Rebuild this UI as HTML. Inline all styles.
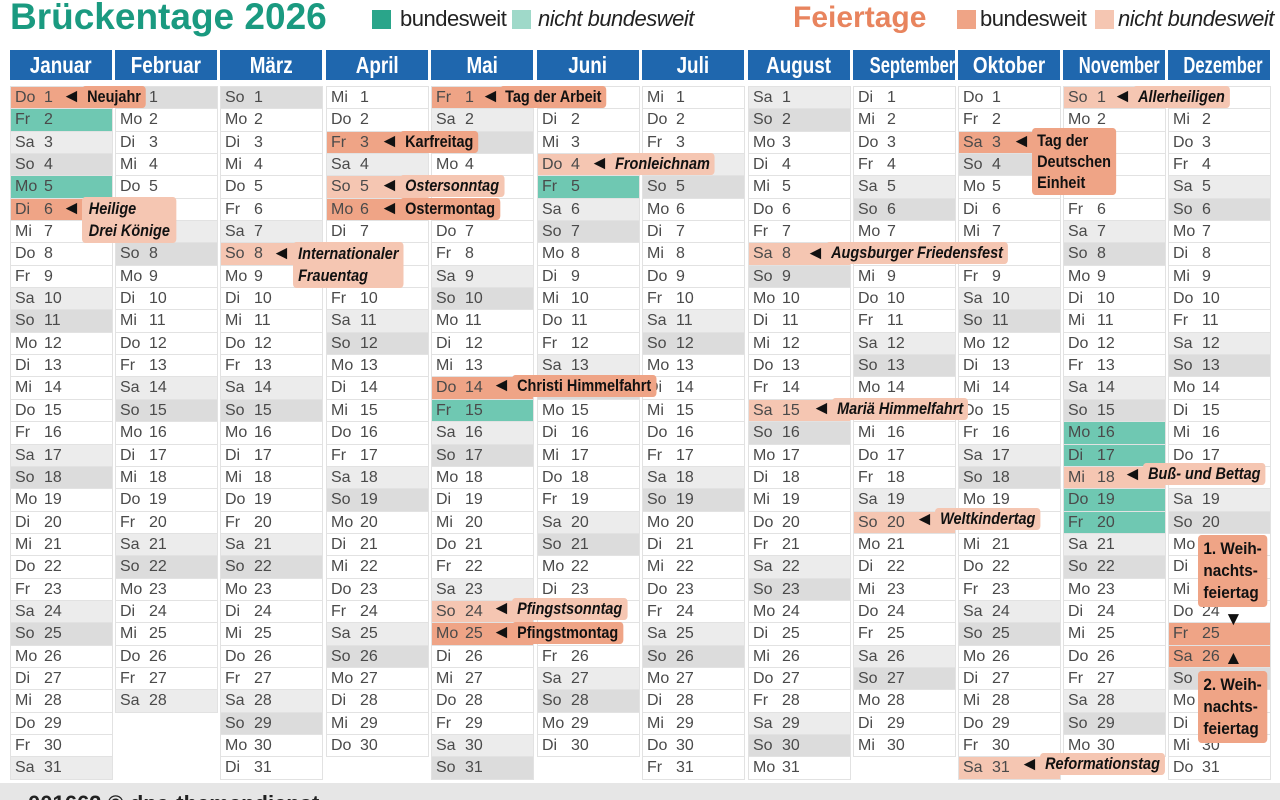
<!DOCTYPE html><html><head><meta charset="utf-8"><style>
*{margin:0;padding:0;box-sizing:border-box}
body{width:1280px;height:800px;background:#fff;position:relative;overflow:hidden;font-family:"Liberation Sans Narrow","Liberation Sans",sans-serif;color:#444}
.t{position:absolute;font-family:"Liberation Sans",sans-serif;font-weight:bold}
.sq{position:absolute;width:19px;height:19px}
.lg{position:absolute;font-size:22px;color:#222;top:6px;letter-spacing:-0.5px}
.hd{position:absolute;top:50px;height:30px;width:102px;background:#1f67ae;color:#fff;font-size:23px;font-weight:bold;text-align:center;line-height:30px;white-space:nowrap;overflow:hidden}
.hd span{display:inline-block;transform:scaleX(.82)}
.hd span.n{transform:scaleX(.72)}
.m{position:absolute;top:86px;width:103px;border-top:1px solid #e2e2e2}
.m p{height:22.35px;line-height:22px;font-size:16px;border:1px solid #e2e2e2;border-top:none;padding-left:4px;white-space:nowrap;overflow:hidden;color:#4a4a4a}
.m p i{font-style:normal;display:inline-block;width:29px}
.m p.s{background:#ececec}.m p.u{background:#dcdcdc}
.m p.h{background:#efa486}.m p.l{background:#f5c6b2}.m p.b{background:#6fc8b2}
.k{position:absolute;font-weight:bold;font-size:17px;color:#111;border-radius:4px;padding:0 6px;line-height:22px;white-space:nowrap;transform:scaleX(.85);transform-origin:left top}
.k.h{background:#efa486}.k.l{background:#f5c6b2;font-style:italic}
.a{position:absolute;font-size:19px;color:#111;line-height:18px}
.ft{position:absolute;left:0;top:783px;width:1280px;height:17px;background:#e6e6e6;overflow:hidden}
</style></head><body>
<div class="t" style="left:10px;top:-4px;font-size:37px;color:#1a9a80">Brückentage 2026</div>
<div class="sq" style="left:372px;top:10px;background:#2aa58a"></div><div class="lg" style="left:400px">bundesweit</div>
<div class="sq" style="left:512px;top:10px;background:#9fd9c9"></div><div class="lg" style="left:538px;font-style:italic">nicht bundesweit</div>
<div class="t" style="left:793px;top:1px;font-size:30px;color:#e8845e">Feiertage</div>
<div class="sq" style="left:957px;top:10px;background:#efa486"></div><div class="lg" style="left:980px">bundesweit</div>
<div class="sq" style="left:1095px;top:10px;background:#f5c6b2"></div><div class="lg" style="left:1118px;font-style:italic">nicht bundesweit</div>

<div class="hd" style="left:10px"><span>Januar</span></div><div class="hd" style="left:115px"><span>Februar</span></div><div class="hd" style="left:220px"><span>März</span></div><div class="hd" style="left:326px"><span>April</span></div><div class="hd" style="left:431px"><span>Mai</span></div><div class="hd" style="left:537px"><span>Juni</span></div><div class="hd" style="left:642px"><span>Juli</span></div><div class="hd" style="left:748px"><span>August</span></div><div class="hd" style="left:853px"><span class="n">September</span></div><div class="hd" style="left:958px"><span>Oktober</span></div><div class="hd" style="left:1063px"><span class="n">November</span></div><div class="hd" style="left:1168px"><span class="n">Dezember</span></div>

<div class="m" style="left:10px"><p class=h><i>Do</i>1</p><p class=b><i>Fr</i>2</p><p class=s><i>Sa</i>3</p><p class=u><i>So</i>4</p><p class=b><i>Mo</i>5</p><p class=h><i>Di</i>6</p><p><i>Mi</i>7</p><p><i>Do</i>8</p><p><i>Fr</i>9</p><p class=s><i>Sa</i>10</p><p class=u><i>So</i>11</p><p><i>Mo</i>12</p><p><i>Di</i>13</p><p><i>Mi</i>14</p><p><i>Do</i>15</p><p><i>Fr</i>16</p><p class=s><i>Sa</i>17</p><p class=u><i>So</i>18</p><p><i>Mo</i>19</p><p><i>Di</i>20</p><p><i>Mi</i>21</p><p><i>Do</i>22</p><p><i>Fr</i>23</p><p class=s><i>Sa</i>24</p><p class=u><i>So</i>25</p><p><i>Mo</i>26</p><p><i>Di</i>27</p><p><i>Mi</i>28</p><p><i>Do</i>29</p><p><i>Fr</i>30</p><p class=s><i>Sa</i>31</p></div>

<div class="m" style="left:115px"><p class=u><i>So</i>1</p><p><i>Mo</i>2</p><p><i>Di</i>3</p><p><i>Mi</i>4</p><p><i>Do</i>5</p><p><i>Fr</i>6</p><p class=s><i>Sa</i>7</p><p class=u><i>So</i>8</p><p><i>Mo</i>9</p><p><i>Di</i>10</p><p><i>Mi</i>11</p><p><i>Do</i>12</p><p><i>Fr</i>13</p><p class=s><i>Sa</i>14</p><p class=u><i>So</i>15</p><p><i>Mo</i>16</p><p><i>Di</i>17</p><p><i>Mi</i>18</p><p><i>Do</i>19</p><p><i>Fr</i>20</p><p class=s><i>Sa</i>21</p><p class=u><i>So</i>22</p><p><i>Mo</i>23</p><p><i>Di</i>24</p><p><i>Mi</i>25</p><p><i>Do</i>26</p><p><i>Fr</i>27</p><p class=s><i>Sa</i>28</p></div>

<div class="m" style="left:220px"><p class=u><i>So</i>1</p><p><i>Mo</i>2</p><p><i>Di</i>3</p><p><i>Mi</i>4</p><p><i>Do</i>5</p><p><i>Fr</i>6</p><p class=s><i>Sa</i>7</p><p class=l><i>So</i>8</p><p><i>Mo</i>9</p><p><i>Di</i>10</p><p><i>Mi</i>11</p><p><i>Do</i>12</p><p><i>Fr</i>13</p><p class=s><i>Sa</i>14</p><p class=u><i>So</i>15</p><p><i>Mo</i>16</p><p><i>Di</i>17</p><p><i>Mi</i>18</p><p><i>Do</i>19</p><p><i>Fr</i>20</p><p class=s><i>Sa</i>21</p><p class=u><i>So</i>22</p><p><i>Mo</i>23</p><p><i>Di</i>24</p><p><i>Mi</i>25</p><p><i>Do</i>26</p><p><i>Fr</i>27</p><p class=s><i>Sa</i>28</p><p class=u><i>So</i>29</p><p><i>Mo</i>30</p><p><i>Di</i>31</p></div>

<div class="m" style="left:326px"><p><i>Mi</i>1</p><p><i>Do</i>2</p><p class=h><i>Fr</i>3</p><p class=s><i>Sa</i>4</p><p class=l><i>So</i>5</p><p class=h><i>Mo</i>6</p><p><i>Di</i>7</p><p><i>Mi</i>8</p><p><i>Do</i>9</p><p><i>Fr</i>10</p><p class=s><i>Sa</i>11</p><p class=u><i>So</i>12</p><p><i>Mo</i>13</p><p><i>Di</i>14</p><p><i>Mi</i>15</p><p><i>Do</i>16</p><p><i>Fr</i>17</p><p class=s><i>Sa</i>18</p><p class=u><i>So</i>19</p><p><i>Mo</i>20</p><p><i>Di</i>21</p><p><i>Mi</i>22</p><p><i>Do</i>23</p><p><i>Fr</i>24</p><p class=s><i>Sa</i>25</p><p class=u><i>So</i>26</p><p><i>Mo</i>27</p><p><i>Di</i>28</p><p><i>Mi</i>29</p><p><i>Do</i>30</p></div>

<div class="m" style="left:431px"><p class=h><i>Fr</i>1</p><p class=s><i>Sa</i>2</p><p class=u><i>So</i>3</p><p><i>Mo</i>4</p><p><i>Di</i>5</p><p><i>Mi</i>6</p><p><i>Do</i>7</p><p><i>Fr</i>8</p><p class=s><i>Sa</i>9</p><p class=u><i>So</i>10</p><p><i>Mo</i>11</p><p><i>Di</i>12</p><p><i>Mi</i>13</p><p class=h><i>Do</i>14</p><p class=b><i>Fr</i>15</p><p class=s><i>Sa</i>16</p><p class=u><i>So</i>17</p><p><i>Mo</i>18</p><p><i>Di</i>19</p><p><i>Mi</i>20</p><p><i>Do</i>21</p><p><i>Fr</i>22</p><p class=s><i>Sa</i>23</p><p class=l><i>So</i>24</p><p class=h><i>Mo</i>25</p><p><i>Di</i>26</p><p><i>Mi</i>27</p><p><i>Do</i>28</p><p><i>Fr</i>29</p><p class=s><i>Sa</i>30</p><p class=u><i>So</i>31</p></div>

<div class="m" style="left:537px"><p><i>Mo</i>1</p><p><i>Di</i>2</p><p><i>Mi</i>3</p><p class=l><i>Do</i>4</p><p class=b><i>Fr</i>5</p><p class=s><i>Sa</i>6</p><p class=u><i>So</i>7</p><p><i>Mo</i>8</p><p><i>Di</i>9</p><p><i>Mi</i>10</p><p><i>Do</i>11</p><p><i>Fr</i>12</p><p class=s><i>Sa</i>13</p><p class=u><i>So</i>14</p><p><i>Mo</i>15</p><p><i>Di</i>16</p><p><i>Mi</i>17</p><p><i>Do</i>18</p><p><i>Fr</i>19</p><p class=s><i>Sa</i>20</p><p class=u><i>So</i>21</p><p><i>Mo</i>22</p><p><i>Di</i>23</p><p><i>Mi</i>24</p><p><i>Do</i>25</p><p><i>Fr</i>26</p><p class=s><i>Sa</i>27</p><p class=u><i>So</i>28</p><p><i>Mo</i>29</p><p><i>Di</i>30</p></div>

<div class="m" style="left:642px"><p><i>Mi</i>1</p><p><i>Do</i>2</p><p><i>Fr</i>3</p><p class=s><i>Sa</i>4</p><p class=u><i>So</i>5</p><p><i>Mo</i>6</p><p><i>Di</i>7</p><p><i>Mi</i>8</p><p><i>Do</i>9</p><p><i>Fr</i>10</p><p class=s><i>Sa</i>11</p><p class=u><i>So</i>12</p><p><i>Mo</i>13</p><p><i>Di</i>14</p><p><i>Mi</i>15</p><p><i>Do</i>16</p><p><i>Fr</i>17</p><p class=s><i>Sa</i>18</p><p class=u><i>So</i>19</p><p><i>Mo</i>20</p><p><i>Di</i>21</p><p><i>Mi</i>22</p><p><i>Do</i>23</p><p><i>Fr</i>24</p><p class=s><i>Sa</i>25</p><p class=u><i>So</i>26</p><p><i>Mo</i>27</p><p><i>Di</i>28</p><p><i>Mi</i>29</p><p><i>Do</i>30</p><p><i>Fr</i>31</p></div>

<div class="m" style="left:748px"><p class=s><i>Sa</i>1</p><p class=u><i>So</i>2</p><p><i>Mo</i>3</p><p><i>Di</i>4</p><p><i>Mi</i>5</p><p><i>Do</i>6</p><p><i>Fr</i>7</p><p class=l><i>Sa</i>8</p><p class=u><i>So</i>9</p><p><i>Mo</i>10</p><p><i>Di</i>11</p><p><i>Mi</i>12</p><p><i>Do</i>13</p><p><i>Fr</i>14</p><p class=l><i>Sa</i>15</p><p class=u><i>So</i>16</p><p><i>Mo</i>17</p><p><i>Di</i>18</p><p><i>Mi</i>19</p><p><i>Do</i>20</p><p><i>Fr</i>21</p><p class=s><i>Sa</i>22</p><p class=u><i>So</i>23</p><p><i>Mo</i>24</p><p><i>Di</i>25</p><p><i>Mi</i>26</p><p><i>Do</i>27</p><p><i>Fr</i>28</p><p class=s><i>Sa</i>29</p><p class=u><i>So</i>30</p><p><i>Mo</i>31</p></div>

<div class="m" style="left:853px"><p><i>Di</i>1</p><p><i>Mi</i>2</p><p><i>Do</i>3</p><p><i>Fr</i>4</p><p class=s><i>Sa</i>5</p><p class=u><i>So</i>6</p><p><i>Mo</i>7</p><p><i>Di</i>8</p><p><i>Mi</i>9</p><p><i>Do</i>10</p><p><i>Fr</i>11</p><p class=s><i>Sa</i>12</p><p class=u><i>So</i>13</p><p><i>Mo</i>14</p><p><i>Di</i>15</p><p><i>Mi</i>16</p><p><i>Do</i>17</p><p><i>Fr</i>18</p><p class=s><i>Sa</i>19</p><p class=l><i>So</i>20</p><p><i>Mo</i>21</p><p><i>Di</i>22</p><p><i>Mi</i>23</p><p><i>Do</i>24</p><p><i>Fr</i>25</p><p class=s><i>Sa</i>26</p><p class=u><i>So</i>27</p><p><i>Mo</i>28</p><p><i>Di</i>29</p><p><i>Mi</i>30</p></div>

<div class="m" style="left:958px"><p><i>Do</i>1</p><p><i>Fr</i>2</p><p class=h><i>Sa</i>3</p><p class=u><i>So</i>4</p><p><i>Mo</i>5</p><p><i>Di</i>6</p><p><i>Mi</i>7</p><p><i>Do</i>8</p><p><i>Fr</i>9</p><p class=s><i>Sa</i>10</p><p class=u><i>So</i>11</p><p><i>Mo</i>12</p><p><i>Di</i>13</p><p><i>Mi</i>14</p><p><i>Do</i>15</p><p><i>Fr</i>16</p><p class=s><i>Sa</i>17</p><p class=u><i>So</i>18</p><p><i>Mo</i>19</p><p><i>Di</i>20</p><p><i>Mi</i>21</p><p><i>Do</i>22</p><p><i>Fr</i>23</p><p class=s><i>Sa</i>24</p><p class=u><i>So</i>25</p><p><i>Mo</i>26</p><p><i>Di</i>27</p><p><i>Mi</i>28</p><p><i>Do</i>29</p><p><i>Fr</i>30</p><p class=l><i>Sa</i>31</p></div>

<div class="m" style="left:1063px"><p class=l><i>So</i>1</p><p><i>Mo</i>2</p><p><i>Di</i>3</p><p><i>Mi</i>4</p><p><i>Do</i>5</p><p><i>Fr</i>6</p><p class=s><i>Sa</i>7</p><p class=u><i>So</i>8</p><p><i>Mo</i>9</p><p><i>Di</i>10</p><p><i>Mi</i>11</p><p><i>Do</i>12</p><p><i>Fr</i>13</p><p class=s><i>Sa</i>14</p><p class=u><i>So</i>15</p><p class=b><i>Mo</i>16</p><p class=b><i>Di</i>17</p><p class=l><i>Mi</i>18</p><p class=b><i>Do</i>19</p><p class=b><i>Fr</i>20</p><p class=s><i>Sa</i>21</p><p class=u><i>So</i>22</p><p><i>Mo</i>23</p><p><i>Di</i>24</p><p><i>Mi</i>25</p><p><i>Do</i>26</p><p><i>Fr</i>27</p><p class=s><i>Sa</i>28</p><p class=u><i>So</i>29</p><p><i>Mo</i>30</p></div>

<div class="m" style="left:1168px"><p><i>Di</i>1</p><p><i>Mi</i>2</p><p><i>Do</i>3</p><p><i>Fr</i>4</p><p class=s><i>Sa</i>5</p><p class=u><i>So</i>6</p><p><i>Mo</i>7</p><p><i>Di</i>8</p><p><i>Mi</i>9</p><p><i>Do</i>10</p><p><i>Fr</i>11</p><p class=s><i>Sa</i>12</p><p class=u><i>So</i>13</p><p><i>Mo</i>14</p><p><i>Di</i>15</p><p><i>Mi</i>16</p><p><i>Do</i>17</p><p><i>Fr</i>18</p><p class=s><i>Sa</i>19</p><p class=u><i>So</i>20</p><p><i>Mo</i>21</p><p><i>Di</i>22</p><p><i>Mi</i>23</p><p><i>Do</i>24</p><p class=h><i>Fr</i>25</p><p class=h><i>Sa</i>26</p><p class=u><i>So</i>27</p><p><i>Mo</i>28</p><p><i>Di</i>29</p><p><i>Mi</i>30</p><p><i>Do</i>31</p></div>

<div class="a" style="left:62px;top:88px">◄</div><div class="k h" style="left:82px;top:86px">Neujahr</div>
<div class="a" style="left:62px;top:200px">◄</div><div class="k l" style="left:82px;top:197px;padding:1px 8px">Heilige<br>Drei Könige</div>
<div class="a" style="left:272px;top:245px">◄</div><div class="k l" style="left:293px;top:242px;padding:1px 6px">Internationaler<br>Frauentag</div>
<div class="a" style="left:380px;top:133px">◄</div><div class="k h" style="left:400px;top:131px">Karfreitag</div>
<div class="a" style="left:380px;top:177px">◄</div><div class="k l" style="left:400px;top:175px">Ostersonntag</div>
<div class="a" style="left:380px;top:200px">◄</div><div class="k h" style="left:400px;top:198px">Ostermontag</div>
<div class="a" style="left:481px;top:88px">◄</div><div class="k h" style="left:500px;top:86px">Tag der Arbeit</div>
<div class="a" style="left:590px;top:155px">◄</div><div class="k l" style="left:610px;top:153px">Fronleichnam</div>
<div class="a" style="left:492px;top:377px">◄</div><div class="k h" style="left:512px;top:375px">Christi Himmelfahrt</div>
<div class="a" style="left:492px;top:600px">◄</div><div class="k l" style="left:512px;top:598px">Pfingstsonntag</div>
<div class="a" style="left:492px;top:624px">◄</div><div class="k h" style="left:512px;top:622px">Pfingstmontag</div>
<div class="a" style="left:806px;top:245px">◄</div><div class="k l" style="left:826px;top:242px">Augsburger Friedensfest</div>
<div class="a" style="left:812px;top:400px">◄</div><div class="k l" style="left:832px;top:398px">Mariä Himmelfahrt</div>
<div class="a" style="left:915px;top:511px">◄</div><div class="k l" style="left:935px;top:508px">Weltkindertag</div>
<div class="a" style="left:1012px;top:133px">◄</div><div class="k h" style="left:1032px;top:128px;padding:2px 6px;line-height:21px">Tag der<br>Deutschen<br>Einheit</div>
<div class="a" style="left:1020px;top:756px">◄</div><div class="k l" style="left:1040px;top:753px">Reformationstag</div>
<div class="a" style="left:1113px;top:88px">◄</div><div class="k l" style="left:1133px;top:86px">Allerheiligen</div>
<div class="a" style="left:1123px;top:466px">◄</div><div class="k l" style="left:1143px;top:463px">Buß- und Bettag</div>
<div class="k h" style="left:1198px;top:535px;padding:3px 6px;line-height:22px;transform:scaleX(.9)">1. Weih-<br>nachts-<br>feiertag</div>
<div class="a" style="left:1224px;top:611px">▼</div>
<div class="a" style="left:1224px;top:650px">▲</div>
<div class="k h" style="left:1198px;top:671px;padding:3px 6px;line-height:22px;transform:scaleX(.9)">2. Weih-<br>nachts-<br>feiertag</div>

<div class="ft"><div style="position:absolute;left:28px;top:8px;font-size:22px;font-weight:bold;color:#222;font-family:'Liberation Sans',sans-serif">001662 © dpa-themendienst</div></div>
</body></html>
